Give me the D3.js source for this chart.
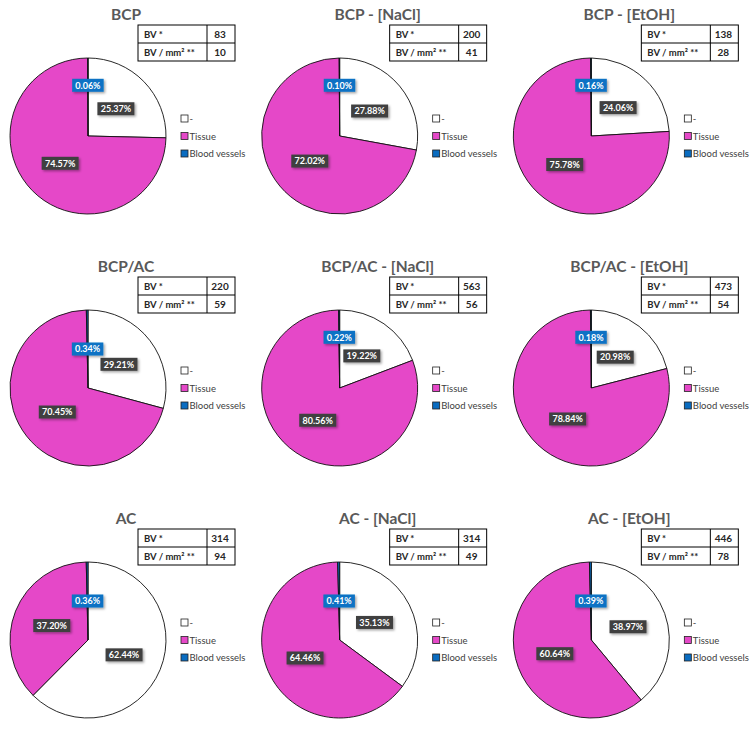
<!DOCTYPE html>
<html><head><meta charset="utf-8">
<script src="https://cdn.jsdelivr.net/npm/d3@7"></script>
<style>
html,body{margin:0;padding:0;background:#fff;}
svg{display:block;font-family:Lato,"Open Sans",sans-serif;}
</style></head>
<body>
<svg id="chart" width="752" height="730"></svg>
<script>
const titles = ["BCP","BCP - [NaCl]","BCP - [EtOH]","BCP/AC","BCP/AC - [NaCl]","BCP/AC - [EtOH]","AC","AC - [NaCl]","AC - [EtOH]"];
const categories = ["-","Tissue","Blood vessels"];
const noneValues   = [25.37,27.88,24.06,29.21,19.22,20.98,62.44,35.13,38.97];
const tissueValues = [74.57,72.02,75.78,70.45,80.56,78.84,37.20,64.46,60.64];
const bvValues     = [0.06,0.10,0.16,0.34,0.22,0.18,0.36,0.41,0.39];
const tableLabels = ["BV *","BV / mm² **"];
const bvCount   = [83,200,138,220,563,473,314,314,446];
const bvDensity = [10,41,28,59,56,54,94,49,78];

const colors = ["#ffffff","#e548c8","#0a6cc0"];
const labelFill = ["#404040","#404040","#0a72c4"];

const svg = d3.select("#chart");
const defs = svg.append("defs");
const f = defs.append("filter").attr("id","sh").attr("x","-20%").attr("y","-20%").attr("width","150%").attr("height","160%");
f.append("feDropShadow").attr("dx",1.5).attr("dy",1.5).attr("stdDeviation",1).attr("flood-color","#000").attr("flood-opacity",0.35);

const colScale = d3.scaleBand().domain([0,1,2]).range([0,755]);
const rowScale = d3.scaleBand().domain([0,1,2]).range([0,756]);

const R = 78;
const pie = d3.pie().sort(null).value(d=>d.v);
const arc = d3.arc().innerRadius(0).outerRadius(R);
const color = d3.scaleOrdinal().domain(categories).range(colors);

titles.forEach((t,i)=>{
  const col = i%3, row = Math.floor(i/3);
  const g = svg.append("g").attr("transform",`translate(${colScale(col)},${rowScale(row)})`);
  const data = categories.map((c,k)=>({c, v:[noneValues,tissueValues,bvValues][k][i], k}));

  // title
  g.append("text").attr("x",126).attr("y",19.5).attr("text-anchor","middle")
   .attr("font-size",15.5).attr("font-weight","bold").attr("fill","#595959").text(t);

  // table
  const tx=138, ty=25, tw=97, rh=18, cw=69;
  const tg = g.append("g");
  tg.append("rect").attr("x",tx).attr("y",ty).attr("width",tw).attr("height",rh*2)
    .attr("fill","#fff").attr("stroke","#000").attr("stroke-width",1);
  tg.append("line").attr("x1",tx).attr("x2",tx+tw).attr("y1",ty+rh).attr("y2",ty+rh).attr("stroke","#000");
  tg.append("line").attr("x1",tx+cw).attr("x2",tx+cw).attr("y1",ty).attr("y2",ty+rh*2).attr("stroke","#000");
  const vals=[bvCount[i],bvDensity[i]];
  tableLabels.forEach((lab,r)=>{
    tg.append("text").attr("x",tx+6).attr("y",ty+rh*r+12.5).attr("font-size",9.5).attr("font-weight","bold")
      .attr("fill","#262626").text(lab);
    tg.append("text").attr("x",tx+cw+(tw-cw)/2-1).attr("y",ty+rh*r+12.5).attr("text-anchor","middle")
      .attr("font-size",10).attr("font-weight","bold").attr("fill","#262626").text(vals[r]);
  });

  // pie
  const cx=88, cy=136;
  const pg = g.append("g").attr("transform",`translate(${cx},${cy})`);
  const arcs = pie(data);
  pg.selectAll("path").data(arcs).join("path").attr("d",arc)
    .attr("fill",d=>color(d.data.c)).attr("stroke","#111").attr("stroke-width",0.9);

  // labels
  const boxes = arcs.map(a=>{
    const txt = d3.format(".2f")(a.data.v)+"%";
    const mid=(a.startAngle+a.endAngle)/2;
    return {a, txt, mid, r:R*0.5, w:txt.length*5.5+4, h:13};
  });
  const pos = b=>[Math.sin(b.mid)*b.r, -Math.cos(b.mid)*b.r];
  const overlap=(b1,b2,pad)=>{
    const [x1,y1]=pos(b1),[x2,y2]=pos(b2);
    return Math.abs(x1-x2) < (b1.w+b2.w)/2+pad && Math.abs(y1-y2) < (b1.h+b2.h)/2+pad;
  };
  // small slice label pushed outward if it collides
  const small = boxes[2];
  if (overlap(small,boxes[0],2) || overlap(small,boxes[1],2)) small.r = R*0.65;

  const lg = pg.selectAll("g.lbl").data(boxes).join("g").attr("class","lbl")
    .attr("transform",b=>{const [x,y]=pos(b);return `translate(${x},${y})`;});
  lg.append("rect").attr("x",b=>-b.w/2).attr("y",-6.5).attr("width",b=>b.w).attr("height",13)
    .attr("fill",b=>labelFill[b.a.data.k]).attr("filter","url(#sh)");
  lg.append("text").attr("text-anchor","middle").attr("y",3.3).attr("font-size",9)
    .attr("font-weight","bold").attr("fill","#fff").text(b=>b.txt);

  // legend
  const lgd = g.append("g").attr("transform",`translate(181,${cy})`);
  const items = lgd.selectAll("g").data(categories).join("g")
    .attr("transform",(d,k)=>`translate(0,${(k-1)*17.5})`);
  items.append("rect").attr("x",0).attr("y",-3.5).attr("width",7).attr("height",7)
    .attr("fill",d=>color(d)).attr("stroke","#222").attr("stroke-width",0.8);
  items.append("text").attr("x",8.5).attr("y",3.5).attr("font-size",9.5).attr("fill","#404040").text(d=>d);
});
</script>
</body></html>
